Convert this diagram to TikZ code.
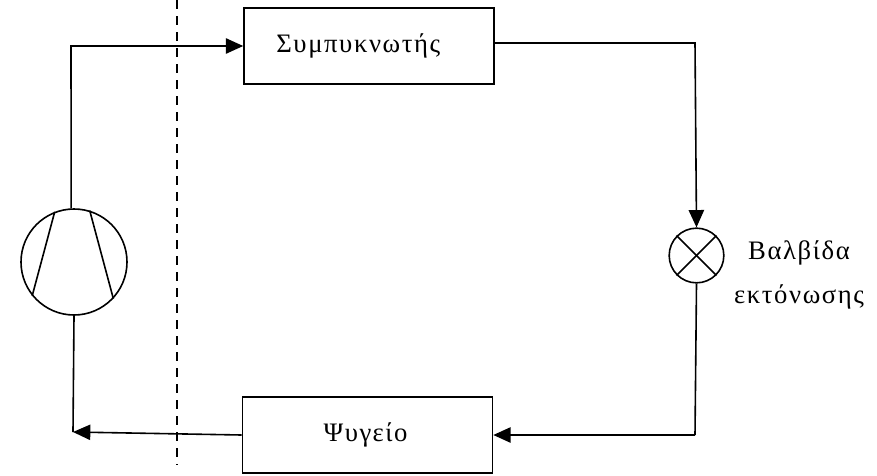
\documentclass[tikz,border=0pt]{standalone}
\usepackage{fontspec}
\setmainfont[LetterSpace=6]{Liberation Serif}
\usetikzlibrary{arrows.meta}
\tikzset{
	unit/.style={draw,rectangle,minimum width=187.5pt,minimum height=57pt,inner sep=0pt,font=\fontsize{20}{24}\selectfont},
	valvesign/.style={draw,circle,minimum size=41pt,inner sep=0pt},
	compsign/.style={draw,circle,minimum size=79.5pt,inner sep=0pt},
	caption/.style={align=center,inner sep=0pt,font=\fontsize{20}{33}\selectfont}
}
\begin{document}
\begin{tikzpicture}[line width=1.2pt,>={Stealth[length=13pt,width=11.5pt,inset=0pt]},x=.75pt,y=-.75pt]
	\useasboundingbox (0,0) rectangle (877,475);
	\node[unit] (cond) at (369,46) {\hspace*{-16pt}Συμπυκνωτής};
	\node[unit] (evap) at (367.5,435) {\hspace*{-3pt}Ψυγείο};
	\node[valvesign] (valve) at (696.5,255.5) {};
	\node[caption] (valvetext) at (799,275) {Βαλβίδα\\εκτόνωσης};
	\node[compsign] (comp) at (74,262) {};
	\coordinate (linetop) at (177,0);
	\coordinate (linebot) at (177,465);
	\coordinate (cornera) at (71,46);
	\coordinate (cornerb) at (695,43);
	\coordinate (cornerc) at (695,435);
	\coordinate (cornerd) at (73,432);
	% compressor
	\draw (comp.111)--(comp.219);
	\draw (comp.73)--(comp.-43);
	% valve cross
	\draw (valve.north west)--(valve.south east);
	\draw (valve.north east)--(valve.south west);
	% circuit
	\draw[->] (comp.93)--(cornera)--(cond.west);
	\draw[->] (cond.east|-cornerb)--(cornerb)--(valve.north);
	\draw (valve.south)--(cornerc);
	\draw[->] (cornerc)--(evap.east);
	\draw (comp.south)--(cornerd);
	\draw[->] (evap.west)--(cornerd);
	\draw[dash pattern=on 7pt off 5pt] (linetop)--(linebot);
\end{tikzpicture}
\end{document}
